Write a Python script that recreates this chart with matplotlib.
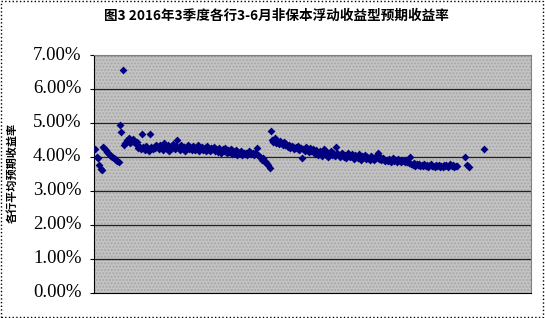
import numpy as np
import matplotlib
matplotlib.use("Agg")
import matplotlib.pyplot as plt
from matplotlib.patches import Rectangle
from matplotlib.font_manager import FontProperties

plt.rcParams['font.family'] = ['Noto Sans CJK SC', 'DejaVu Sans']
plt.rcParams['font.serif'] = ['Liberation Serif', 'DejaVu Serif']

title = "图3 2016年3季度各行3-6月非保本浮动收益型预期收益率"
ylabel = "各行平均预期收益率"
yticks = [0, 1, 2, 3, 4, 5, 6, 7]
ytick_labels = ["0.00%", "1.00%", "2.00%", "3.00%", "4.00%", "5.00%", "6.00%", "7.00%"]

nan = np.nan
# expected yields (%) per product, in order
seg_a = [4.22, 4.00, 3.95, 3.75, 3.65, 3.62, 4.30, 4.26, 4.20, 4.14, 4.10, 4.05,
         4.02, 4.00, 3.96, 3.93, 3.90, 3.88]
seg_b = [3.85, 4.95, 4.72, 6.55]
seg_c = [4.35, 4.42, 4.50, 4.46, 4.55, 4.40, 4.48, 4.52, 4.44, 4.38, 4.45, 4.25,
         4.30, 4.22, 4.68, 4.28, 4.20, 4.32, 4.24, 4.18, 4.66, 4.28, 4.22, 4.30,
         4.25, 4.34]
seg_d = [4.30, 4.22, 4.36, 4.26, 4.20, 4.40, 4.28, 4.24, 4.35, 4.18,
         4.30, 4.26, 4.38, 4.22, 4.32, 4.50, 4.28, 4.20, 4.34, 4.25,
         4.30, 4.18, 4.27, 4.35, 4.22, 4.28, 4.19, 4.32, 4.24, 4.20,
         4.29, 4.34, 4.17, 4.25, 4.30, 4.21, 4.26, 4.18, 4.31, 4.23,
         4.16, 4.27, 4.22, 4.30, 4.18, 4.24, 4.14, 4.26, 4.20, 4.12,
         4.22, 4.18, 4.25, 4.10, 4.20, 4.15, 4.22, 4.08, 4.17, 4.12,
         4.20, 4.06, 4.15, 4.10, 4.18, 4.04, 4.12, 4.08]
seg_e = [4.10, 4.05, 4.16, 4.15, 4.08, 4.12, 4.04, 4.10, 4.25, 4.06, 4.02, 3.98,
         3.92, 3.96, 3.88, 3.85, 3.80, 3.76, 3.66]
seg_f = [4.76]
seg_g = [4.50, 4.45, 4.55, 4.42, 4.48, 4.38, 4.46, 4.40, 4.36, 4.44, 4.34,
         4.38, 4.30, 4.35, 4.26, 4.32, 4.28, 4.22, 4.30, 4.25, 4.33, 4.20, 4.27,
         3.96, 4.24, 4.18, 4.28, 4.20, 4.15, 4.25, 4.18, 4.22]
seg_h = [4.15, 4.08, 4.20, 4.05, 4.12, 4.18, 4.02, 4.10, 4.22, 4.06,
         4.14, 4.00, 4.08, 4.16, 4.04, 4.12, 4.02, 4.30, 4.10, 4.05,
         3.98, 4.08, 4.12, 4.00, 4.06, 3.95, 4.10, 4.03, 3.98, 4.07,
         4.02, 3.94, 4.05, 4.00, 3.96, 4.08, 3.92, 4.02, 3.98, 4.04,
         3.94, 4.00, 3.96, 3.90, 4.03, 3.97, 3.92, 4.00, 3.95, 4.10,
         3.93, 3.98, 3.90, 3.96, 3.92, 3.88]
seg_i = [3.92, 3.88, 3.94, 3.86, 3.90, 3.95, 3.87, 3.91, 3.85, 3.93, 3.89, 3.86,
         3.92, 3.88, 3.84, 3.90, 3.86, 3.82]
seg_j = [4.00]
seg_k = [3.80, 3.76, 3.82, 3.74, 3.78, 3.75, 3.79, 3.72, 3.77, 3.74,
         3.78, 3.73, 3.76, 3.71, 3.75, 3.78, 3.72, 3.74, 3.70, 3.76,
         3.73, 3.77, 3.71, 3.74, 3.70, 3.75, 3.72, 3.76, 3.71, 3.73,
         3.78, 3.72, 3.75, 3.70, 3.74]
seg_l = [3.72, nan, nan, nan, nan, nan, 4.00, nan, 3.76, 3.70]
seg_m = [nan] * 11
seg_n = [4.22]

values = np.array(seg_a + seg_b + seg_c + seg_d + seg_e + seg_f + seg_g + seg_h
                  + seg_i + seg_j + seg_k + seg_l + seg_m + seg_n, dtype=float)
x = np.arange(1, len(values) + 1)

fig = plt.figure(figsize=(5.45, 3.18), dpi=100)
fig.patch.set_facecolor('white')
ax = fig.add_axes([94 / 545, 1 - 292.5 / 318, 437 / 545, (292.5 - 55) / 318])
ax.set_facecolor('#c4c4c4')
ax.add_patch(Rectangle((0, 0), 1, 1, transform=ax.transAxes, facecolor='none',
                       edgecolor='#a6a6a6', hatch='.....', linewidth=0, zorder=0))

for yv in yticks[1:]:
    ax.axhline(yv, color='#222222', linewidth=0.9, zorder=1)

ax.scatter(x, values, marker='D', s=16, color='#000080', linewidths=0, zorder=3)

ax.set_xlim(0, 336)
ax.set_ylim(0, 7)
ax.set_yticks(yticks)
ax.set_yticklabels([])
ax.set_xticks([])
ax.tick_params(axis='y', direction='out', length=3, width=0.8, colors='black')

serif_fp = FontProperties(family='serif', size=13.5)
for yv, lab in zip(yticks, ytick_labels):
    ax.annotate(lab, xy=(0, yv), xycoords=('axes fraction', 'data'),
                xytext=(-9, 0), textcoords='offset points', ha='right',
                va='center', fontproperties=serif_fp, color='black')

ax.spines['left'].set_color('black')
ax.spines['bottom'].set_color('black')
ax.spines['top'].set_color('#808080')
ax.spines['right'].set_color('#808080')
for s in ax.spines.values():
    s.set_linewidth(0.8)

fig.text(0.507, 0.951, title, ha='center', va='center', fontsize=9.8,
         fontweight='bold', color='black')
fig.text(0.022, 0.456, ylabel, ha='center', va='center', rotation=90,
         fontsize=8, fontweight='bold', color='black')

fig.add_artist(Rectangle((0.002, 0.004), 0.995, 0.993, transform=fig.transFigure,
                         fill=False, edgecolor='black', linestyle=':', linewidth=1.0))

fig.savefig("out.png", dpi=100)
